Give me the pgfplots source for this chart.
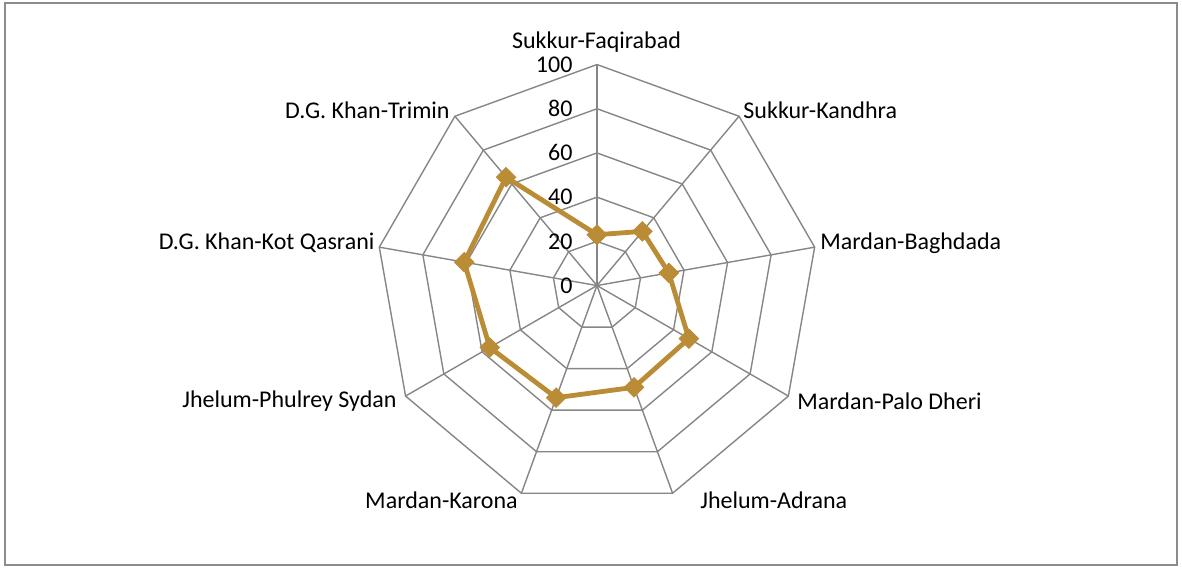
\documentclass[border=0pt]{standalone}
\usepackage{pgfplots}
\pgfplotsset{compat=1.18}
\usepackage{fontspec}
\setmainfont{Carlito}
\definecolor{gridgray}{RGB}{134,134,134}
\definecolor{framegray}{RGB}{140,140,140}
\definecolor{gold}{RGB}{186,140,54}
\begin{document}
\begin{tikzpicture}
\begin{axis}[
  x=1.105pt, y=1.105pt,
  xmin=-270.1, xmax=264.7, ymin=-127.4, ymax=129.2,
  hide axis, clip=false,
]
\path (rel axis cs:0,0) rectangle (rel axis cs:1,1);
\draw[framegray, line width=1pt] (axis cs:-267.9,127.8) rectangle (axis cs:262.4,-126.5);
% grid polygons
\pgfplotsinvokeforeach{20,40,60,80,100}{
  \addplot[gridgray, line width=0.7pt, mark=none, data cs=polar] coordinates {(90,#1) (50,#1) (10,#1) (-30,#1) (-70,#1) (-110,#1) (-150,#1) (-190,#1) (-230,#1) (-270,#1)};
}
% spokes
\pgfplotsinvokeforeach{90,50,10,-30,-70,-110,-150,-190,-230}{
  \addplot[gridgray, line width=0.7pt, mark=none, data cs=polar] coordinates {(#1,0) (#1,100)};
}
% data
\addplot[gold, line width=2.4pt, data cs=polar, mark=square*, mark size=3.4pt, mark options={rotate=45, fill=gold, draw=gold, line width=0.5pt}] coordinates {
  (90,23) (50,32) (10,33) (-30,48) (-70,49) (-110,54) (-150,56) (-190,61) (-230,64) (-270,23)};
% tick labels
\pgfplotsinvokeforeach{0,20,40,60,80,100}{
  \node[anchor=east, inner sep=0pt, font=\fontsize{12}{14}\selectfont] at (axis cs:-10.9,#1) {#1};
}
% category labels
\begin{scope}[every node/.style={inner sep=0pt, font=\fontsize{12}{14}\selectfont}]
\node[anchor=center] at (axis cs:-0.2,110.2) {Sukkur-Faqirabad};
\node[anchor=west] at (axis cs:66.1,79.4) {Sukkur-Kandhra};
\node[anchor=west] at (axis cs:100.9,19.2) {Mardan-Baghdada};
\node[anchor=west] at (axis cs:90.5,-52.3) {Mardan-Palo Dheri};
\node[anchor=west] at (axis cs:46.6,-97.1) {Jhelum-Adrana};
\node[anchor=east] at (axis cs:-35.7,-97.1) {Mardan-Karona};
\node[anchor=east] at (axis cs:-90.5,-52.3) {Jhelum-Phulrey Sydan};
\node[anchor=east] at (axis cs:-100.5,19.2) {D.G. Khan-Kot Qasrani};
\node[anchor=east] at (axis cs:-66.5,79.4) {D.G. Khan-Trimin};
\end{scope}
\end{axis}
\end{tikzpicture}
\end{document}
